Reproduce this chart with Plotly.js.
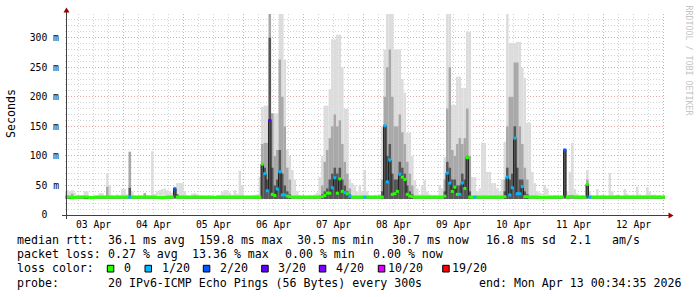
<!DOCTYPE html>
<html><head><meta charset="utf-8">
<script src="https://cdn.plot.ly/plotly-3.0.1.min.js"></script>
<style>html,body{margin:0;padding:0;background:#fff}#chart{width:697px;height:297px}</style>
</head><body><div id="chart"></div>
<script>
// ---- data (hourly bins starting 2026-04-03 00:00) ----
const rangeStart = '2026-04-03 00:34:35';
const rangeEnd   = '2026-04-13 00:34:35';

const medianMs = [
 30.4,31,30.4,29.4,29.6,30.4,30.4,30.4,30.4,30.4,29.5,29.5,29.8,30.4,30.4,30.4,30.4,30.4,30.4,30.4,30.4,30.4,30.4,30.4,
 30.4,30.4,30.4,30.4,30.4,30.4,30.4,30.4,30.4,30.4,30.4,30.4,30.4,29.6,29.4,29.4,29.6,30.4,30.4,30.4,44,30.4,30.4,30.4,
 30.4,30.4,30.4,30.4,30.8,30.4,30.4,30.4,30.4,30.4,30.4,30.4,29.8,30.4,30.4,30.4,30.4,30.4,30.4,30.4,30.4,30.4,30.4,30.4,
 30.4,30.4,30.4,30.4,30.4,30.4,30.4,86,70,41,160,35,33,44,73,34,34,32,31,30.4,30.4,30.4,30.4,30.4,
 30.4,30.4,30.4,30.4,30.4,30.4,31,31,33,37,37,46,63,37,61,40,38,36,32,30.4,30.4,30.4,30.4,30.4,
 30.4,30.4,30.4,30.4,30.4,30.4,30.4,30.4,151,56,93,35,36,40,69,64,60,35,32,31,30.4,30.4,30.4,30.4,
 30.4,30.4,30.4,30.4,30.4,30.4,30.4,30.4,32,71,54,40,47,35,35,54,45,97,30.4,30.4,30.4,30.4,30.4,30.4,
 30.4,30.4,30.4,30.4,30.4,30.4,30.4,30.4,31,64,34,46,130,36,36,48,31,31,30.4,30.4,30.4,30.4,29.8,29.8,
 29.8,29.8,30.4,30.4,30.4,30.4,30.4,30.4,110,30.4,31.2,31.2,30.4,30.4,30.4,30.4,30.4,52,30.4,30.4,30.4,30.4,30.4,30.4,
 30.4,30.4,30.4,30.4,30.4,30.8,30.4,30.4,30.4,30.4,30.4,30.4,30.4,30.4,30.4,30.4,30.4,30.4,30.4,30.8,30.4,30.4,30.4,30.4,
 30.4];

const smokeLowMs = [
 28,28,27,27,28,28,28,28,27,27,27,27,28,28,28,28,28,28,28,28,28,28,28,28,
 28,28,28,28,28,28,28,28,28,28,28,28,28,28,28,28,28,28,28,28,28,28,28,28,
 28,28,28,28,28,28,28,28,28,28,28,28,28,28,28,28,28,28,28,28,28,28,28,28,
 28,28,28,28,28,28,28,27,27,27,27,27,27,27,27,27,27,27,27,28,28,28,28,28,
 28,28,28,28,28,28,28,27,27,27,27,27,27,27,27,27,27,27,27,28,28,28,28,28,
 28,28,28,28,28,28,28,27,27,27,27,27,27,27,27,27,27,27,27,27,28,28,28,28,
 28,28,28,28,28,28,28,28,27,27,27,27,27,27,27,27,27,27,27,28,28,28,28,28,
 28,28,28,28,28,28,28,28,27,27,27,27,27,27,27,27,27,27,28,28,28,28,28,28,
 28,28,28,28,28,28,28,28,28,28,28,28,28,28,28,28,28,28,28,28,28,28,28,28,
 28,28,28,28,28,28,28,28,28,28,28,28,28,28,28,28,28,28,28,28,28,28,28,28,
 28];

const smokeDarkMs = [
 30,30,30,30,30,30,30,30,30,30,30,30,30,30,30,30,30,30,30,30,30,30,30,30,
 30,30,46,30,30,30,30,30,30,30,30,30,30,30,30,30,30,30,30,30,46,35,30,30,
 30,30,30,30,30,30,30,30,30,30,30,30,30,30,30,30,30,30,30,30,30,30,30,30,
 30,30,30,30,30,30,30,86,80,60,300,80,50,60,110,70,50,40,35,30,30,30,30,30,
 30,30,30,30,30,30,30,35,40,45,60,70,80,70,80,60,50,40,35,30,30,30,30,30,
 30,30,30,30,30,30,30,40,151,100,120,70,60,60,90,80,70,50,40,35,30,30,30,30,
 30,30,30,30,30,30,30,30,40,90,80,60,60,50,50,70,60,100,40,30,30,30,30,30,
 30,30,30,30,30,30,30,30,40,80,60,70,150,80,60,60,40,35,30,30,30,30,30,30,
 30,30,30,30,30,30,30,30,110,30,30,30,30,30,30,30,30,52,30,30,30,30,30,30,
 30,30,30,30,30,30,30,30,30,30,30,30,30,30,30,30,30,30,30,30,30,30,30,30,
 30];

const smokeMidMs = [
 31,31,31,36,31,31,31,31,31,31,31,31,31,31,31,31,31,48,31,31,31,31,31,31,
 31,31,107,31,31,31,31,31,37,31,31,31,31,31,31,31,31,31,31,31,46,31,31,31,
 31,31,31,31,31,31,31,31,31,31,31,31,31,31,31,31,31,31,31,31,31,31,31,31,
 31,31,31,31,31,31,31,120,122,122,340,172,100,110,263,200,150,80,60,31,31,31,31,31,
 31,31,31,31,31,31,31,50,90,110,130,150,170,150,160,120,90,70,45,31,31,31,31,31,
 31,31,31,31,31,31,31,60,200,250,280,200,150,150,170,140,120,90,70,50,31,31,31,31,
 31,31,31,31,31,31,31,31,60,180,250,110,100,120,130,120,130,180,100,31,31,31,31,31,
 31,31,31,31,31,31,31,31,60,150,200,200,258,258,150,120,80,60,31,31,31,31,31,31,
 31,31,31,31,31,31,31,31,110,31,31,31,31,31,31,31,31,60,31,31,31,31,31,31,
 31,31,31,31,31,31,31,31,31,31,31,31,31,31,31,31,31,31,31,31,31,31,31,31,
 31];

const smokeMaxMs = [
 40,42,40,42,38,33,33,33,40,40,33,32,34,33,37,37,33,70,50,33,32,35,33,44,
 44,35,107,40,33,32,33,33,37,34,33,108,36,40,42,44,45,42,40,38,48,54,54,54,
 40,33,32,36,37,35,32,33,32,32,33,32,32,33,34,40,42,42,38,34,42,36,75,50,
 32,33,32,33,34,35,64,183,185,185,340,172,172,172,340,340,263,110,100,76,60,40,34,33,
 33,32,34,33,35,38,64,100,185,185,213,297,297,305,305,250,180,180,60,54,50,40,51,40,
 76,40,33,32,34,33,35,150,280,340,340,340,280,280,280,230,207,139,139,100,59,45,35,50,
 59,40,35,33,34,33,50,45,98,340,340,186,186,234,234,215,215,310,310,64,64,40,45,122,
 122,73,73,54,54,45,40,60,124,340,291,291,291,293,293,249,232,156,156,73,54,40,38,36,
 51,45,33,32,34,33,32,33,110,40,73,122,44,36,33,34,33,76,40,33,32,44,33,34,
 33,32,71,40,33,34,33,32,44,36,33,34,33,48,35,33,34,47,40,33,35,33,34,32,
 33];

// hours (since 2026-04-03 00:00) with packet loss, and their loss class index
const lossHours  = [26,44,80,81,82,85,86,87,88,107,108,112,114,120,128,129,130,134,153,154,158,159,164,177,178,179,180,181,182,183,200,210];
const lossLevels = [1,2,1,1,3,1,1,1,1,1,1,1,1,1,1,1,1,1,1,1,1,1,1,1,1,1,1,1,1,1,2,1];
const lossLabels = ['\u00a00','\u00a01/20','\u00a02/20','\u00a03/20','\u00a04/20','10/20','19/20'];
const lossColors = ['#26ff00','#00b8ff','#0059ff','#5e00ff','#7e00ff','#dd00ff','#ff0000'];

const yTickVals = [0,50,100,150,200,250,300];
const yTickText = ['0\u00a0\u00a0','50 m','100 m','150 m','200 m','250 m','300 m'];

const legendRtt  = ['median rtt:','36.1 ms avg','159.8 ms max','30.5 ms min','30.7 ms now','16.8 ms sd','2.1','am/s'];
const legendLoss = ['packet loss:','0.27 % avg','13.36 % max','0.00 % min','0.00 % now'];
const legendProbe = ['probe:','20 IPv6-ICMP Echo Pings (56 Bytes) every 300s','end: Mon Apr 13 00:34:35 2026'];

// ---- build ----
const t0 = Date.UTC(2026,3,3,0,0,0);
const HOUR = 3600000;
const fmt = ms => new Date(ms).toISOString().slice(0,19).replace('T',' ');
const binCenters = medianMs.map((v,h)=>fmt(t0+(h+0.5)*HOUR));

const traces = [];
function smokeLayer(top, color){
  traces.push({type:'bar', x:binCenters, base:smokeLowMs, y:top.map((v,i)=>v-smokeLowMs[i]),
    width:HOUR, marker:{color:color, line:{width:0}}, hoverinfo:'skip', showlegend:false});
}
smokeLayer(smokeMaxMs,'#dcdcdc');
smokeLayer(smokeMidMs,'#a8a8a8');
smokeLayer(smokeDarkMs,'#565656');

traces.push({type:'scatter', mode:'lines', x:binCenters, y:medianMs,
  line:{color:'#202020', width:1, shape:'hvh'}, hoverinfo:'skip', showlegend:false});

const lossOf = {};
lossHours.forEach((h,k)=>{lossOf[h]=lossLevels[k];});
for (let L=0; L<lossColors.length; L++){
  const xs=[], ys=[];
  medianMs.forEach((v,h)=>{ const lv=(h in lossOf)?lossOf[h]:0; if(lv===L){xs.push(binCenters[h]); ys.push(v);} });
  if(xs.length) traces.push({type:'scatter', mode:'markers', x:xs, y:ys,
    marker:{symbol:'line-ew', size:2.2, color:lossColors[L], line:{width:3, color:lossColors[L]}},
    hoverinfo:'skip', showlegend:false});
}

// ---- layout helpers (pixel -> paper) ----
const ML=65, MT=14, PW=600, PH=201;
const px = x => (x-ML)/PW;
const py = y => (MT+PH-y)/PH;
const MONO = 'DejaVu Sans Mono';
const annotations = [];
function txt(x,y,s,opt){
  annotations.push(Object.assign({xref:'paper', yref:'paper', x:px(x), y:py(y), text:s, showarrow:false,
    xanchor:'left', yanchor:'middle', borderpad:0, font:{family:MONO, size:11.6, color:'#000'}}, opt||{}));
}
const rttX = [16,107,198,296,391,485,569,611];
legendRtt.forEach((s,i)=>txt(rttX[i],240.3,s.replace(/ /g,'\u00a0')));
const lossX = [16,107,191,284,372];
legendLoss.forEach((s,i)=>txt(lossX[i],254.3,s.replace(/ /g,'\u00a0')));
txt(16,268.3,'loss\u00a0color:');
const boxX = [107.3,145,203.3,261.7,319.3,378.3,442.7];
const shapes = [];
boxX.forEach((bx,i)=>{
  shapes.push({type:'rect', xref:'paper', yref:'paper', x0:px(bx), x1:px(bx+6.5), y0:py(272), y1:py(265.3),
    fillcolor:lossColors[i], line:{color:'#000', width:1}});
  txt(bx+8.5,268.3,lossLabels[i]);
});
const probeX = [16,107,478];
legendProbe.forEach((s,i)=>txt(probeX[i],282.7,s.replace(/ /g,'\u00a0')));

annotations.push({xref:'paper', yref:'paper', x:px(11), y:py(114), text:'Seconds', textangle:-90,
  showarrow:false, xanchor:'center', yanchor:'middle', font:{family:MONO, size:11.6, color:'#000'}});
annotations.push({xref:'paper', yref:'paper', x:px(688.5), y:py(60), text:'RRDTOOL\u00a0/\u00a0TOBI\u00a0OETIKER', textangle:90,
  showarrow:false, xanchor:'center', yanchor:'middle', font:{family:MONO, size:8.3, color:'#c4c4c4'}});

// axes lines and arrows
shapes.push({type:'line', xref:'paper', yref:'paper', x0:px(66.5), x1:px(66.5), y0:py(219), y1:py(12), line:{color:'#404040', width:1}});
shapes.push({type:'line', xref:'paper', yref:'paper', x0:px(62), x1:px(669), y0:py(215.5), y1:py(215.5), line:{color:'#404040', width:1}});
shapes.push({type:'path', xref:'paper', yref:'paper',
  path:`M${px(63.5)},${py(12.5)} L${px(69.5)},${py(12.5)} L${px(66.5)},${py(7.5)} Z`, fillcolor:'#9a0000', line:{width:0}});
shapes.push({type:'path', xref:'paper', yref:'paper',
  path:`M${px(668.5)},${py(212.5)} L${px(668.5)},${py(218.5)} L${px(673.5)},${py(215.5)} Z`, fillcolor:'#9a0000', line:{width:0}});

const RED = '#e8a4a4', GREY = '#d2d2d2', DASH = '1px,2px';
const layout = {
  width:697, height:297, margin:{l:ML, r:697-ML-PW, t:MT, b:297-MT-PH, pad:0},
  paper_bgcolor:'#ffffff', plot_bgcolor:'#ffffff', showlegend:false, barmode:'overlay',
  xaxis:{type:'date', range:[rangeStart,rangeEnd], tick0:'2026-04-03', dtick:86400000,
    ticklabelmode:'period', tickformat:'%d %b', showgrid:true, gridcolor:RED, griddash:DASH, gridwidth:1,
    minor:{tickmode:'linear', tick0:'2026-04-03', dtick:21600000, showgrid:true, gridcolor:GREY, griddash:DASH, gridwidth:1},
    zeroline:false, showline:false, ticks:'', ticklabelstandoff:2, tickfont:{family:MONO, size:9.75, color:'#000'}, fixedrange:true},
  yaxis:{range:[0,340], tickmode:'array', tickvals:yTickVals, ticktext:yTickText,
    showgrid:true, gridcolor:RED, griddash:DASH, gridwidth:1,
    minor:{tickmode:'linear', tick0:0, dtick:10, showgrid:true, gridcolor:GREY, griddash:DASH, gridwidth:1},
    zeroline:false, showline:false, ticks:'', ticklabelstandoff:5,
    tickfont:{family:MONO, size:9.75, color:'#000'}, fixedrange:true},
  shapes:shapes, annotations:annotations
};
Plotly.newPlot('chart', traces, layout, {staticPlot:true, displayModeBar:false});
</script>
</body></html>
